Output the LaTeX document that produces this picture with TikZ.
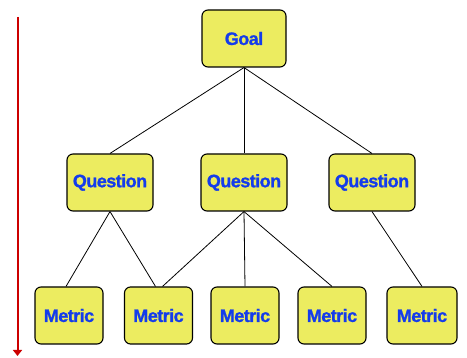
\documentclass[tikz,border=0pt]{standalone}
\usepackage{fontspec}
\setmainfont{Liberation Sans}
\usetikzlibrary{arrows.meta}
\definecolor{boxfill}{RGB}{236,236,96}
\definecolor{txtblue}{RGB}{20,60,235}
\definecolor{arrred}{RGB}{204,0,0}
\begin{document}
\begin{tikzpicture}[x=1pt,y=-1pt,
  gbox/.style={draw=black,line width=1.1pt,fill=boxfill,rounded corners=6pt,
    minimum width=#1,minimum height=57pt,inner sep=0pt,
    font=\fontsize{18}{20}\selectfont\bfseries\addfontfeatures{LetterSpace=-3,FakeBold=1.2},text=txtblue},
  gbox/.default=68pt,
  link/.style={draw=black,line width=0.8pt}]
\useasboundingbox (0,0) rectangle (467,358);
\node[gbox=84pt] (goal) at (244,38.5) {Goal};
\node[gbox=86pt] (q1) at (110,182.5) {Question};
\node[gbox=86pt] (q2) at (244,182.5) {Question};
\node[gbox=86pt] (q3) at (372,182.5) {Question};
\node[gbox] (m1) at (69,315.5) {Metric};
\node[gbox] (m2) at (158.5,315.5) {Metric};
\node[gbox] (m3) at (245,315.5) {Metric};
\node[gbox] (m4) at (332,315.5) {Metric};
\node[gbox=70pt] (m5) at (422,315.5) {Metric};
\draw[link] (goal.south) -- (q1.north);
\draw[link] (goal.south) -- (q2.north);
\draw[link] (goal.south) -- (q3.north);
\draw[link] (q1.south) -- ([xshift=-3pt]m1.north);
\draw[link] (q1.south) -- ([xshift=-3pt]m2.north);
\draw[link] (q2.south) -- ([xshift=4pt]m2.north);
\draw[link] (q2.south) -- (m3.north);
\draw[link] (q2.south) -- (m4.north);
\draw[link] (q3.south) -- (m5.north);
\coordinate (atop) at (17.5,17);
\coordinate (abot) at (17.5,356);
\draw[arrred,line width=2pt,-{Triangle[length=6pt,width=9pt]}] (atop) -- (abot);
\end{tikzpicture}
\end{document}
